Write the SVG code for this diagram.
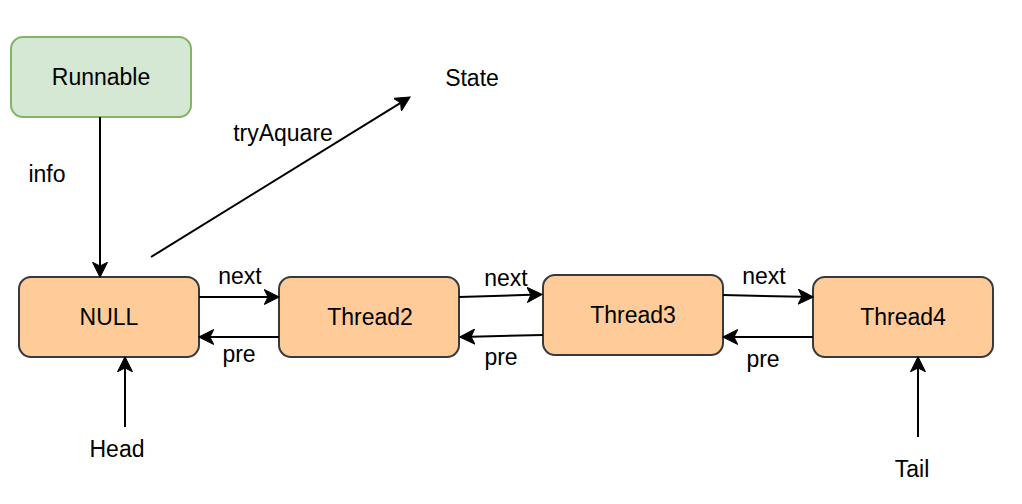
<svg xmlns="http://www.w3.org/2000/svg" width="1022" height="504" viewBox="0 0 1022 504">
<style>
.node{fill:#ffcc99;stroke:#36393d;stroke-width:2}
.green{fill:#d5e8d4;stroke:#82b366;stroke-width:2}
.t{font-family:"Liberation Sans",Arial,Helvetica,sans-serif;font-size:23px;fill:#000;text-anchor:middle}
.edge{fill:none;stroke:#000;stroke-width:2;marker-end:url(#arr)}
</style>
<defs>
<marker id="arr" markerUnits="userSpaceOnUse" markerWidth="16" markerHeight="16" viewBox="0 -8 16 16" refX="3.75" refY="0" orient="auto">
<path d="M15,0 L0,-7.5 L3.75,0 L0,7.5 Z" fill="#000" stroke="#000" stroke-width="1"/>
</marker>
</defs>
<rect width="1022" height="504" fill="#fff"/>
<g id="runnable">
<rect class="green" x="11" y="37" width="180" height="80" rx="12"/>
<text class="t" x="101" y="85">Runnable</text>
</g>
<g id="state"><text class="t" x="472" y="86">State</text></g>
<g id="null">
<rect class="node" x="19" y="277" width="180" height="80" rx="12"/>
<text class="t" x="109" y="325">NULL</text>
</g>
<g id="thread2">
<rect class="node" x="279" y="277" width="180" height="80" rx="12"/>
<text class="t" x="370" y="325">Thread2</text>
</g>
<g id="thread3">
<rect class="node" x="543" y="275" width="180" height="80" rx="12"/>
<text class="t" x="633" y="323">Thread3</text>
</g>
<g id="thread4">
<rect class="node" x="813" y="277" width="180" height="80" rx="12"/>
<text class="t" x="903" y="325">Thread4</text>
</g>
<g id="head"><text class="t" x="117" y="457">Head</text></g>
<g id="tail"><text class="t" x="912" y="477">Tail</text></g>
<g id="connectors">
<path class="edge" d="M100,117 L100,266"/>
<path class="edge" d="M151,257 L400.6,102.8"/>
<path class="edge" d="M199,297 L268,297"/>
<path class="edge" d="M279,337 L210,337"/>
<path class="edge" d="M459,297 L531,294.8"/>
<path class="edge" d="M543,335 L471,336.7"/>
<path class="edge" d="M723,295 L802,296.8"/>
<path class="edge" d="M813,337 L734,337"/>
<path class="edge" d="M125,427 L125,368"/>
<path class="edge" d="M918,437 L918,368"/>
<text class="t" x="47" y="182">info</text>
<text class="t" x="283" y="141">tryAquare</text>
<text class="t" x="240" y="284">next</text>
<text class="t" x="239" y="362">pre</text>
<text class="t" x="506" y="286">next</text>
<text class="t" x="501" y="365">pre</text>
<text class="t" x="764" y="284">next</text>
<text class="t" x="763" y="367">pre</text>
</g>
</svg>
